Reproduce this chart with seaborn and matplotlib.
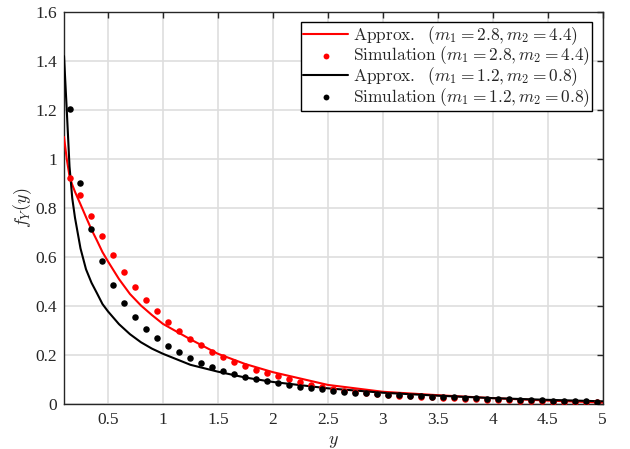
import numpy as np
import pandas as pd
import matplotlib
matplotlib.use("Agg")
import matplotlib.pyplot as plt
from matplotlib.ticker import FuncFormatter, MultipleLocator
import seaborn as sns

# Simulated histogram (bin centres, bin width 0.1)
y_sim = [0.15, 0.25, 0.35, 0.45, 0.55, 0.65, 0.75, 0.85, 0.95, 1.05,
         1.15, 1.25, 1.35, 1.45, 1.55, 1.65, 1.75, 1.85, 1.95, 2.05,
         2.15, 2.25, 2.35, 2.45, 2.55, 2.65, 2.75, 2.85, 2.95, 3.05,
         3.15, 3.25, 3.35, 3.45, 3.55, 3.65, 3.75, 3.85, 3.95, 4.05,
         4.15, 4.25, 4.35, 4.45, 4.55, 4.65, 4.75, 4.85, 4.95]

sim_a = [0.921, 0.853, 0.768, 0.686, 0.609, 0.540, 0.479, 0.426, 0.378, 0.336,
         0.299, 0.267, 0.239, 0.214, 0.192, 0.173, 0.155, 0.140, 0.127, 0.114,
         0.101, 0.089, 0.078, 0.068, 0.060, 0.054, 0.049, 0.044, 0.040, 0.037,
         0.034, 0.031, 0.029, 0.027, 0.025, 0.023, 0.021, 0.019, 0.018, 0.016,
         0.015, 0.014, 0.012, 0.011, 0.010, 0.009, 0.009, 0.008, 0.007]

sim_b = [1.204, 0.903, 0.714, 0.584, 0.487, 0.412, 0.355, 0.307, 0.270, 0.237,
         0.211, 0.187, 0.167, 0.150, 0.135, 0.122, 0.111, 0.102, 0.093, 0.084,
         0.077, 0.071, 0.065, 0.060, 0.055, 0.050, 0.046, 0.043, 0.040, 0.037,
         0.035, 0.033, 0.031, 0.030, 0.029, 0.027, 0.025, 0.024, 0.022, 0.021,
         0.019, 0.018, 0.017, 0.015, 0.014, 0.013, 0.012, 0.011, 0.010]

# Analytical approximation
y_approx = [0.10, 0.125, 0.15, 0.175, 0.20, 0.25, 0.30, 0.35, 0.40, 0.45,
            0.50, 0.60, 0.70, 0.80, 0.90, 1.00, 1.25, 1.50, 1.75, 2.00,
            2.50, 3.00, 3.50, 4.00, 4.50, 5.00]

approx_a = [1.09, 1.00, 0.93, 0.895, 0.866, 0.815, 0.763, 0.712, 0.667, 0.620,
            0.582, 0.510, 0.449, 0.402, 0.363, 0.327, 0.264, 0.205, 0.163, 0.130,
            0.078, 0.050, 0.036, 0.024, 0.014, 0.006]

approx_b = [1.42, 1.20, 0.97, 0.84, 0.76, 0.635, 0.550, 0.495, 0.452, 0.408,
            0.378, 0.326, 0.285, 0.252, 0.226, 0.205, 0.160, 0.132, 0.108, 0.090,
            0.064, 0.046, 0.034, 0.024, 0.017, 0.011]

labels = [
    r"$\mathrm{Approx.}\ \ (m_1 = 2.8, m_2 = 4.4)$",
    r"$\mathrm{Simulation}\ (m_1 = 2.8, m_2 = 4.4)$",
    r"$\mathrm{Approx.}\ \ (m_1 = 1.2, m_2 = 0.8)$",
    r"$\mathrm{Simulation}\ (m_1 = 1.2, m_2 = 0.8)$",
]

sns.set_theme(style="white")
plt.rcParams["font.family"] = ["Liberation Serif", "DejaVu Serif"]
plt.rcParams["mathtext.fontset"] = "cm"

fig = plt.figure(figsize=(6.30, 4.49), dpi=100)
ax = fig.add_axes([0.1016, 0.1002, 0.855, 0.8731])

df_a = pd.DataFrame({"y": y_approx, "f": approx_a})
df_b = pd.DataFrame({"y": y_approx, "f": approx_b})
ds_a = pd.DataFrame({"y": y_sim, "f": sim_a})
ds_b = pd.DataFrame({"y": y_sim, "f": sim_b})

sns.lineplot(data=df_a, x="y", y="f", color="#ff0000", linewidth=1.5,
             label=labels[0], ax=ax, zorder=3)
sns.scatterplot(data=ds_a, x="y", y="f", color="#ff0000", s=22, linewidth=0,
                label=labels[1], ax=ax, zorder=4)
sns.lineplot(data=df_b, x="y", y="f", color="#000000", linewidth=1.5,
             label=labels[2], ax=ax, zorder=3)
sns.scatterplot(data=ds_b, x="y", y="f", color="#000000", s=22, linewidth=0,
                label=labels[3], ax=ax, zorder=4)

ax.set_xlim(0.1, 5)
ax.set_ylim(0, 1.6)
ax.xaxis.set_major_locator(MultipleLocator(0.5))
ax.yaxis.set_major_locator(MultipleLocator(0.2))
fmt = FuncFormatter(lambda v, p: f"{v:g}")
ax.xaxis.set_major_formatter(fmt)
ax.yaxis.set_major_formatter(fmt)

ax.grid(True, color="#dedede", linewidth=1.2)
ax.set_axisbelow(True)
for s in ax.spines.values():
    s.set_visible(True)
    s.set_color("#262626")
    s.set_linewidth(1.0)
ax.tick_params(direction="in", length=4, width=1.0, color="#262626",
               top=True, right=True, labelsize=12.5, labelcolor="#262626")
ax.tick_params(axis="x", pad=6)
ax.tick_params(axis="y", pad=5)

ax.set_xlabel(r"$y$", fontsize=13, color="#262626", labelpad=3)
ax.set_ylabel(r"$f_Y(y)$", fontsize=13, color="#262626", labelpad=1)

leg = ax.legend(loc="upper right", fontsize=12.5, frameon=True, fancybox=False,
                edgecolor="black", framealpha=1.0, handlelength=2.6,
                handletextpad=0.3, borderpad=0.1, labelspacing=-0.12,
                borderaxespad=0.6, markerscale=0.9)
leg.get_frame().set_linewidth(1.0)

fig.savefig("out.png", dpi=100)
